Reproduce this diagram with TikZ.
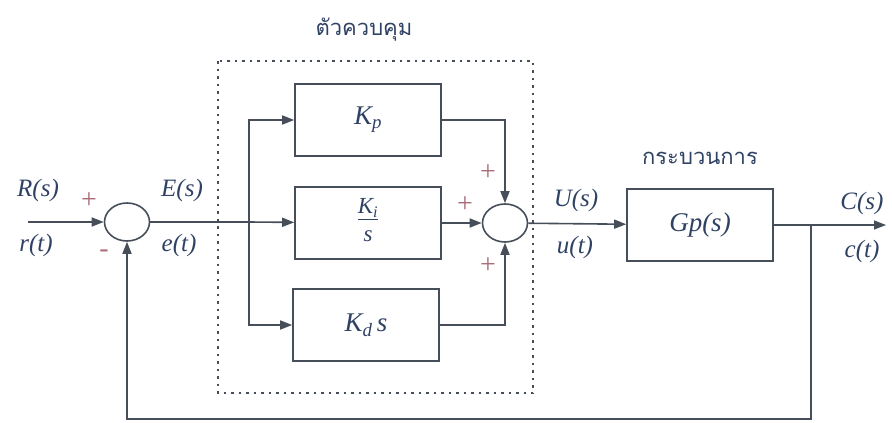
\documentclass[tikz,border=0pt]{standalone}
\usepackage{fontspec}
\setmainfont{Liberation Serif}
\newfontfamily\thaifont[Script=Thai]{Loma}
\usepackage{xcolor}
\usetikzlibrary{shapes.geometric, arrows.meta, positioning}

\definecolor{wire}{RGB}{70,78,90}
\definecolor{ink}{RGB}{48,66,100}
\definecolor{signred}{RGB}{170,110,120}

\begin{document}
\begin{tikzpicture}[x=1pt, y=-1pt, line width=1.6pt, draw=wire]
        \tikzstyle{block} = [rectangle, minimum width=146pt, minimum height=72pt, text centered, draw=wire, font=\fontsize{27}{29}\selectfont\itshape, text=ink]
        \tikzstyle{sumnode} = [ellipse, minimum width=45pt, minimum height=38pt, draw=wire, inner sep=0pt]
        \tikzstyle{sig} = [font=\fontsize{25}{27}\selectfont\itshape, text=ink, inner sep=0pt]
        \tikzstyle{sign} = [font=\fontsize{28}{28}\selectfont, text=signred, inner sep=0pt]
        \tikzstyle{thai} = [font=\fontsize{22}{26}\thaifont, text=ink, inner sep=0pt]
        \tikzstyle{flow} = [-{Triangle[length=12pt, width=9pt]}]

        \useasboundingbox (0,0) rectangle (892,423);

        % controller frame
        \draw [line width=1.4pt, dash pattern=on 2.5pt off 5pt] (218,61) rectangle (533,393);
        \node (ctrltitle) [thai] at (364,30) {ตัวควบคุม};

        \node (sumE) [sumnode] at (127,222) {};
        \node (kp) [block] at (368,120) {K\textsubscript{p}};
        \node (ki) [block] at (368,223) {\fontsize{23}{23}\selectfont\arrayrulewidth=1pt\begin{tabular}{@{}c@{}}K\textsubscript{i}\\[-2pt]\hline\rule{0pt}{22pt}s\end{tabular}};
        \node (kd) [block] at (366,325) {K\textsubscript{d}\,s};
        \node (sumU) [sumnode] at (505,223) {};
        \node (plant) [block] at (700,225) {Gp(s)};
        \node (planttitle) [thai] at (700,158) {กระบวนการ};

        \coordinate (in) at (28,222);
        \coordinate (split) at (249,222);
        \coordinate (tap) at (811,225);
        \coordinate (out) at (886,225);

        \draw [flow] (in) -- (sumE);
        \draw (sumE) -- (split);
        \draw [flow] (split) -- (ki);
        \draw [flow] (split) |- (kp);
        \draw [flow] (split) |- (kd);
        \draw [flow] (kp) -| (sumU);
        \draw [flow] (ki) -- (sumU);
        \draw [flow] (kd) -| (sumU);
        \draw [flow] (sumU) -- (plant);
        \draw [flow] (plant) -- (out);
        \draw [flow] (tap) -- (811,419) -| (sumE);

        % signal labels
        \node (Rs) [sig] at (38,190) {R(s)};
        \node (rt) [sig] at (36,245) {r(t)};
        \node (Es) [sig] at (182,190) {E(s)};
        \node (et) [sig] at (179,245) {e(t)};
        \node (Us) [sig] at (576,200) {U(s)};
        \node (ut) [sig] at (575,247) {u(t)};
        \node (Cs) [sig] at (862,203) {C(s)};
        \node (ct) [sig] at (862,251) {c(t)};

        % signs
        \node (plusR) [sign] at (89,201) {+};
        \node (minusF) [sign] at (104,254) {-};
        \node (plusP) [sign] at (488,173) {+};
        \node (plusI) [sign] at (465,205) {+};
        \node (plusD) [sign] at (488,266) {+};
    \end{tikzpicture}
\end{document}
